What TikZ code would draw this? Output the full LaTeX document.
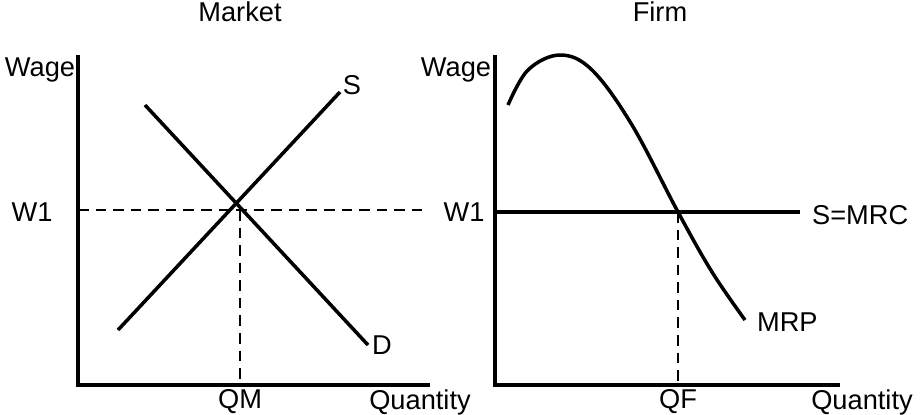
\documentclass[tikz,border=0pt]{standalone}
\usepackage{fontspec}
\setmainfont{Liberation Sans}
\begin{document}
\begin{tikzpicture}[x=0.02cm,y=-0.02cm,
    curve/.style={line width=2pt},
    guide/.style={line width=1.1pt,dash pattern=on 6pt off 4pt},
    lbl/.style={font=\fontsize{15.5}{18}\selectfont,inner sep=1pt}]
    \useasboundingbox (0,0) rectangle (922,414);
    % market
    \node[lbl] (mt) at (240,12) {Market};
    \draw[curve] (78,55) coordinate (my) -- (78,385) coordinate (mo) -- (430,385) coordinate (mx);
    \node[lbl] (mw) at (40,70) {Wage};
    \draw[guide] (78,210) -- (425,210);
    \draw[guide] (240,210) -- (240,385);
    \draw[curve] (118,330) coordinate (s0) -- (340,92) coordinate (s1);
    \draw[curve] (145,105) coordinate (d0) -- (368,345) coordinate (d1);
    \node[lbl] (ms) at (352,85) {S};
    \node[lbl] (md) at (382,345) {D};
    \node[lbl] (mw1) at (32,212) {W1};
    \node[lbl] (mq) at (240,402) {QM};
    \node[lbl] (mqt) at (420,402) {Quantity};
    % firm
    \node[lbl] (ft) at (660,12) {Firm};
    \draw[curve] (495,55) coordinate (fy) -- (495,385) coordinate (fo) -- (840,385) coordinate (fx);
    \node[lbl] (fw) at (456,70) {Wage};
    \node[lbl] (fw1) at (464,212) {W1};
    \draw[curve] (495,212) -- (800,212) coordinate (sm);
    \node[lbl,anchor=west] (smrc) at (810,215) {S=MRC};
    \draw[curve] plot[smooth,tension=0.6] coordinates {(508,105) (528,70) (560,55) (592,70) (632,125) (678,212) (712,272) (745,320)};
    \node[lbl,anchor=west] (mrp) at (755,322) {MRP};
    \draw[guide] (678,212) -- (678,385);
    \node[lbl] (fq) at (678,402) {QF};
    \node[lbl] (fqt) at (862,402) {Quantity};
\end{tikzpicture}
\end{document}
